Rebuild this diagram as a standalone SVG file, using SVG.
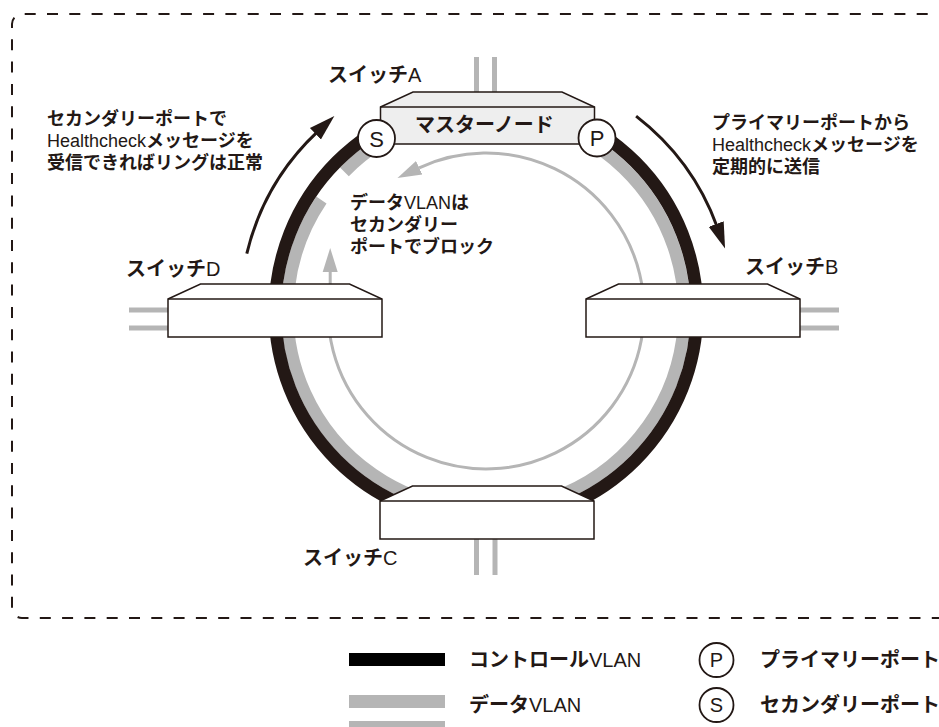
<svg xmlns="http://www.w3.org/2000/svg" width="939" height="727" viewBox="0 0 939 727">
<defs>
<style>
.t{font-family:'Liberation Sans','Noto Sans CJK JP',sans-serif;font-weight:700;fill:#231815}
.l{font-weight:400}
.s18{font-size:18px}
.s20{font-size:20px}
.sw{fill:#fff;stroke:#231815;stroke-width:1.5}
.mn{fill:#eeeeee}
.ln{stroke:#231815;stroke-width:1.5}
.up{stroke:#b5b5b5;stroke-width:5;fill:none}
.port{fill:#fff;stroke:#231815;stroke-width:1.8}
.pl{font-family:'Liberation Sans',sans-serif;font-weight:400;fill:#231815;text-anchor:middle}
</style>
<marker id="ab" markerUnits="userSpaceOnUse" markerWidth="30" markerHeight="20" viewBox="0 -10 30 20" refX="3" refY="0" orient="auto"><path d="M0,-8 L26,0 L0,8 Z" fill="#231815"/></marker>
<marker id="ag" markerUnits="userSpaceOnUse" markerWidth="26" markerHeight="18" viewBox="0 -9 26 18" refX="0" refY="0" orient="auto-start-reverse"><path d="M0,-7.5 L24,0 L0,7.5 Z" fill="#b5b5b5"/></marker>
</defs>

<path id="border" d="M950,14 H22 A10,10 0 0 0 12,24 V608 A10,10 0 0 0 22,618 H950" fill="none" stroke="#231815" stroke-width="2" stroke-dasharray="11 11.3"/>

<g id="uplinks">
<line class="up" x1="476.5" y1="57" x2="476.5" y2="92"/>
<line class="up" x1="494.5" y1="57" x2="494.5" y2="92"/>
<line class="up" x1="129" y1="310" x2="168" y2="310"/>
<line class="up" x1="129" y1="328" x2="168" y2="328"/>
<line class="up" x1="800" y1="310" x2="839" y2="310"/>
<line class="up" x1="800" y1="328" x2="839" y2="328"/>
<line class="up" x1="476.5" y1="539" x2="476.5" y2="575"/>
<line class="up" x1="495" y1="539" x2="495" y2="575"/>
</g>

<g id="connectors">
<path d="M344.4,171.9 A198.5,198.5 0 1 1 321.4,200" fill="none" stroke="#b5b5b5" stroke-width="12.4"/>
<circle cx="486" cy="311" r="211" fill="none" stroke="#231815" stroke-width="12.6"/>
<path d="M330.2,272 L330.2,285 A158,158 0 1 0 419.2,167.8" fill="none" stroke="#b5b5b5" stroke-width="3" marker-start="url(#ag)" marker-end="url(#ag)"/>
<path d="M246.8,253.6 A246,246 0 0 1 317.6,131.7" fill="none" stroke="#231815" stroke-width="3" marker-end="url(#ab)"/>
<path d="M636.1,116.1 A246,246 0 0 1 717.2,226.9" fill="none" stroke="#231815" stroke-width="3" marker-end="url(#ab)"/>
</g>

<g id="switch-a">
<polygon class="sw mn" points="380.5,107 413,92 562,92 594.5,107 594.5,144 380.5,144"/>
<line class="ln" x1="380.5" y1="107" x2="594.5" y2="107"/>
<text class="t s20" x="415" y="132">マスターノード</text>
<text class="t s20" x="328" y="82">スイッチ<tspan class="l">A</tspan></text>
</g>

<g id="switch-b">
<polygon class="sw" points="586,299 618.5,284 767.5,284 800,299 800,337 586,337"/>
<line class="ln" x1="586" y1="299" x2="800" y2="299"/>
<text class="t s20" x="745" y="274">スイッチ<tspan class="l">B</tspan></text>
</g>

<g id="switch-c">
<polygon class="sw" points="380,501 412.5,486 561.5,486 594,501 594,539 380,539"/>
<line class="ln" x1="380" y1="501" x2="594" y2="501"/>
<text class="t s20" x="303" y="565">スイッチ<tspan class="l">C</tspan></text>
</g>

<g id="switch-d">
<polygon class="sw" points="168,299 200.5,284 349.5,284 382,299 382,337 168,337"/>
<line class="ln" x1="168" y1="299" x2="382" y2="299"/>
<text class="t s20" x="126" y="276">スイッチ<tspan class="l">D</tspan></text>
</g>

<g id="port-s">
<circle class="port" cx="376.5" cy="138.5" r="18.5"/>
<text class="pl" x="376.5" y="146.5" font-size="22">S</text>
</g>
<g id="port-p">
<circle class="port" cx="597" cy="138" r="18.5"/>
<text class="pl" x="597" y="146" font-size="22">P</text>
</g>

<g id="note-left">
<text class="t s18" x="47" y="125">セカンダリーポートで</text>
<text class="t s18" x="47" y="147"><tspan class="l">Healthcheck</tspan>メッセージを</text>
<text class="t s18" x="47" y="169">受信できればリングは正常</text>
</g>
<g id="note-right">
<text class="t s18" x="712" y="129">プライマリーポートから</text>
<text class="t s18" x="712" y="151"><tspan class="l">Healthcheck</tspan>メッセージを</text>
<text class="t s18" x="712" y="173">定期的に送信</text>
</g>
<g id="note-center">
<text class="t s18" x="350" y="209">データ<tspan class="l">VLAN</tspan>は</text>
<text class="t s18" x="350" y="231">セカンダリー</text>
<text class="t s18" x="350" y="253">ポートでブロック</text>
</g>

<g id="legend">
<rect x="349" y="653" width="96" height="13" fill="#000"/>
<rect x="349" y="695" width="96" height="13" fill="#b5b5b5"/>
<rect x="349" y="721" width="96" height="12" fill="#b5b5b5"/>
<text class="t s20" x="469" y="667">コントロール<tspan class="l">VLAN</tspan></text>
<text class="t s20" x="469" y="712">データ<tspan class="l">VLAN</tspan></text>
<circle class="port" cx="716.5" cy="660" r="17"/>
<text class="pl" x="716.5" y="667" font-size="20">P</text>
<circle class="port" cx="716.5" cy="705" r="17"/>
<text class="pl" x="716.5" y="712" font-size="20">S</text>
<text class="t s20" x="760" y="667">プライマリーポート</text>
<text class="t s20" x="760" y="712">セカンダリーポート</text>
</g>
</svg>
